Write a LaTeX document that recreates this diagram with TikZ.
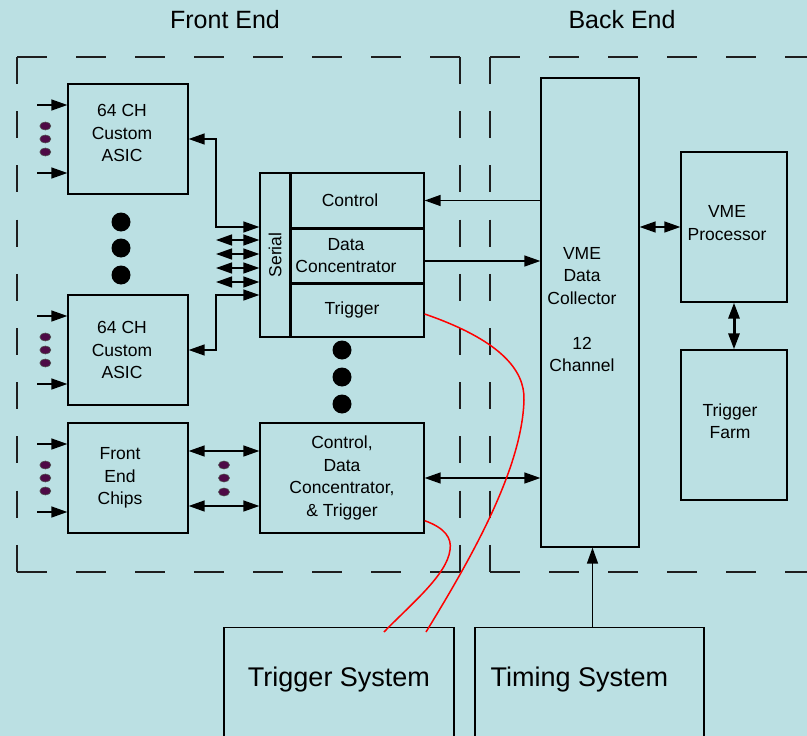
\documentclass[tikz,border=0pt]{standalone}
\usepackage{fontspec}
\setmainfont{Liberation Sans}
\usetikzlibrary{arrows.meta, positioning}
\definecolor{PaleCyan}{RGB}{187,224,227}
\definecolor{DotPurple}{RGB}{78,10,70}
\definecolor{DashGray}{RGB}{30,30,30}

\begin{document}
\begin{tikzpicture}[
    x=1pt, y=-1pt,
    font=\fontsize{17.5}{22.5}\selectfont,
    box/.style={draw, line width=1.3pt, inner sep=0pt},
    txt/.style={align=center, inner sep=0pt},
    arr/.style={-{Triangle[length=16pt, width=11pt]}, line width=1.4pt},
    dbl/.style={{Triangle[length=16pt, width=11pt]}-{Triangle[length=16pt, width=11pt]}, line width=1.4pt},
    hdash/.style={DashGray, line width=1.5pt, dash pattern=on 30pt off 29pt},
    vdash/.style={DashGray, line width=1.5pt, dash pattern=on 27pt off 27.2pt},
    sep/.style={line width=2.6pt},
    smalldot/.style={fill=DotPurple, draw=black!70, line width=0.6pt},
    wire/.style={red, line width=1.5pt},
]

\useasboundingbox (0,0) rectangle (807,736);
\clip (0,0) rectangle (807,736);
\fill[PaleCyan] (0,0) rectangle (807,736);

% --- titles and dashed frames ---
\node[font=\fontsize{25}{30}\selectfont] (fetitle) at (225,20) {Front End};
\node[font=\fontsize{25}{30}\selectfont] (betitle) at (622,20) {Back End};

\draw[hdash] (17,57) -- (460,57);
\draw[hdash] (17,572) -- (460,572);
\draw[vdash] (17,57) -- (17,572);
\draw[vdash] (460,57) -- (460,572);
\draw[hdash] (490,57) -- (830,57);
\draw[hdash] (490,572) -- (830,572);
\draw[vdash] (490,57) -- (490,572);

% --- front end chips ---
\node[box, minimum width=120pt, minimum height=110pt] (asicA) at (128,139) {};
\node[txt] (asicAtxt) at ([xshift=-6pt, yshift=6pt]asicA.center) {64 CH\\Custom\\ASIC};
\node[box, minimum width=120pt, minimum height=110pt] (asicB) at (128,350) {};
\node[txt] (asicBtxt) at ([xshift=-6pt]asicB.center) {64 CH\\Custom\\ASIC};
\node[box, minimum width=120pt, minimum height=110pt] (fec) at (128,478) {};
\node[txt] (fectxt) at ([xshift=-8pt]fec.center) {Front\\End\\Chips};

\foreach \b in {asicA, asicB, fec}{
    \draw[arr] ([xshift=-30pt, yshift=34pt]\b.west) -- ([yshift=34pt]\b.west);
    \draw[arr] ([xshift=-30pt, yshift=-34pt]\b.west) -- ([yshift=-34pt]\b.west);
    \foreach \dy in {13,0,-13}
        \fill[smalldot] ([xshift=-22pt, yshift=\dy pt]\b.west)
            ellipse [x radius=5.5pt, y radius=4pt];
}
\foreach \yy in {222,248,275}
    \fill (121,\yy) circle (9.5pt);

% --- serial / control / data concentrator / trigger stack ---
\node[box, minimum width=30pt, minimum height=164pt] (serial) at (275,255) {};
\node[rotate=90] (serialtxt) at (serial.center) {Serial};
\node[box, minimum width=134pt, minimum height=55pt] (ctrl) at (357,200.5) {};
\node[txt] (ctrltxt) at ([xshift=-7pt]ctrl.center) {Control};
\node[box, minimum width=134pt, minimum height=55pt] (data) at (357,255.5) {};
\node[txt] (datatxt) at ([xshift=-11pt]data.center) {Data\\Concentrator};
\node[box, minimum width=134pt, minimum height=54pt] (trig) at (357,310) {};
\node[txt] (trigtxt) at ([xshift=-5pt]trig.center) {Trigger};
\draw[sep] (serial.north east) -- (serial.south east);
\draw[sep] (ctrl.south west) -- (ctrl.south east);
\draw[sep] (data.south west) -- (data.south east);
\foreach \yy in {350,377,404}
    \fill (342,\yy) circle (9.5pt);

\node[box, minimum width=164pt, minimum height=110pt] (combo) at (342,478) {};
\node[txt] (combotxt) at (combo.center) {Control,\\Data\\Concentrator,\\\& Trigger};

% --- front end links ---
\draw[dbl] (asicA.east) -| (216,227) -- (serial.west |- 0,227);
\foreach \yy in {240,254,268,282}
    \draw[dbl] (216,\yy) -- (serial.west |- 0,\yy);
\draw[dbl] (asicB.east) -| (216,295) -- (serial.west |- 0,295);
\draw[dbl] ([yshift=27pt]fec.east) -- ([yshift=27pt]combo.west);
\draw[dbl] ([yshift=-28pt]fec.east) -- ([yshift=-28pt]combo.west);
\foreach \yy in {465,478,492}
    \fill[smalldot] (224,\yy) ellipse [x radius=5.5pt, y radius=4pt];

% --- back end ---
\node[box, minimum width=98pt, minimum height=469pt] (vme) at (590,312.5) {};
\node[txt] (vmetxt) at ([xshift=-8pt, yshift=3pt]vme.center)
    {VME\\Data\\Collector\\[22.5pt]12\\Channel};
\node[box, minimum width=106pt, minimum height=150pt] (proc) at (734,227) {};
\node[txt] (proctxt) at ([xshift=-7pt, yshift=4pt]proc.center) {VME\\Processor};
\node[box, minimum width=106pt, minimum height=150pt] (farm) at (734,425) {};
\node[txt] (farmtxt) at ([xshift=-4pt, yshift=4pt]farm.center) {Trigger\\Farm};

\draw[arr] (ctrl.east -| vme.west) -- (ctrl.east);
\draw[arr] ([yshift=-5.5pt]data.east) -- ([yshift=-5.5pt]data.east -| vme.west);
\draw[dbl] (combo.east) -- (combo.east -| vme.west);
\draw[dbl] (proc.west -| vme.east) -- (proc.west);
\draw[dbl, line width=3pt] (proc.south) -- (farm.north);

% --- trigger and timing systems ---
\node[box, minimum width=230pt, minimum height=130pt, anchor=north] (trigsys) at (339,627) {};
\node[font=\fontsize{27}{32}\selectfont] (trigsystxt) at ([yshift=-53pt]trigsys.north) {Trigger System};
\node[box, minimum width=229pt, minimum height=130pt, anchor=north] (timing) at (589.5,627) {};
\node[font=\fontsize{27}{32}\selectfont] (timingtxt) at ([xshift=-10pt, yshift=-53pt]timing.north) {Timing System};

\draw[arr] ([xshift=3pt]timing.north) -- ([xshift=3pt]timing.north |- vme.south);

% --- trigger wires ---
\draw[wire] ([yshift=-4pt]trig.east) .. controls (500,340) and (525,370) .. (524,400)
    .. controls (522,470) and (470,560) .. ([xshift=87pt, yshift=-5pt]trigsys.north);
\draw[wire] ([yshift=13pt]combo.south east) .. controls (445,528) and (452,538) .. (450,550)
    .. controls (447,575) and (410,605) .. ([xshift=45pt, yshift=-5pt]trigsys.north);

\end{tikzpicture}
\end{document}
